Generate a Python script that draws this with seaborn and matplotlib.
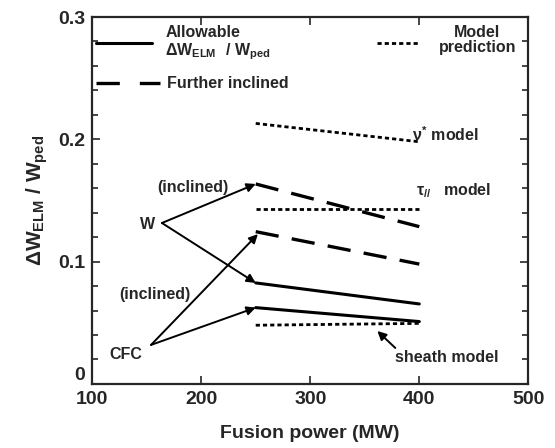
import numpy as np
import pandas as pd
import matplotlib
matplotlib.use("Agg")
import matplotlib.pyplot as plt
import seaborn as sns

# fusion power (MW) at the two ends of each line
power = [250, 400]

# model predictions (dotted)
nu_star_model = [0.213, 0.198]
tau_model = [0.143, 0.143]
sheath_model = [0.048, 0.0495]

# allowable dW_ELM / W_ped (solid)
w_allowable = [0.0826, 0.0654]
cfc_allowable = [0.0624, 0.051]

# further inclined (long dash)
w_inclined = [0.1635, 0.1286]
cfc_inclined = [0.1245, 0.098]

sns.set_style("ticks")
plt.rcParams['font.family'] = ['Liberation Sans', 'DejaVu Sans']
plt.rcParams['font.weight'] = 'bold'
plt.rcParams['mathtext.fontset'] = 'custom'
plt.rcParams['mathtext.rm'] = 'Liberation Sans:bold'
plt.rcParams['mathtext.it'] = 'Liberation Sans:bold'
plt.rcParams['mathtext.bf'] = 'Liberation Sans:bold'

fig = plt.figure(figsize=(5.55, 4.48), dpi=100)
ax = fig.add_axes([0.166, 0.143, 0.786, 0.819])

solid = dict(color='black', lw=2.2, linestyle='-')
dash = dict(color='black', lw=2.4, linestyle=(0, (7, 4)))
dot = dict(color='black', lw=2.0, linestyle=(0, (1.5, 1.1)))

sns.lineplot(x=power, y=nu_star_model, ax=ax, **dot)
sns.lineplot(x=power, y=tau_model, ax=ax, **dot)
sns.lineplot(x=power, y=sheath_model, ax=ax, **dot)
sns.lineplot(x=power, y=w_allowable, ax=ax, **solid)
sns.lineplot(x=power, y=cfc_allowable, ax=ax, **solid)
sns.lineplot(x=power, y=w_inclined, ax=ax, **dash)
sns.lineplot(x=power, y=cfc_inclined, ax=ax, **dash)

ax.set_xlim(100, 500)
ax.set_ylim(0, 0.3)
ax.set_xticks([100, 200, 300, 400, 500])
ax.set_yticks([0, 0.1, 0.2, 0.3])
ax.set_yticklabels(['0', '0.1', '0.2', '0.3'])
ax.set_yticks(np.arange(0, 0.3, 0.02), minor=True)
ax.tick_params(which='both', direction='in', top=True, right=True, width=1.2)
ax.tick_params(which='major', length=6, labelsize=14, pad=5)
ax.tick_params(which='minor', length=4)
for lab in ax.get_xticklabels() + ax.get_yticklabels():
    lab.set_fontweight('bold')
# the "0" sits just above the "100" like in the original
ax.get_yticklabels()[0].set_va('bottom')
for sp in ax.spines.values():
    sp.set_linewidth(1.6)

ax.set_xlabel('Fusion power (MW)', fontsize=14, fontweight='bold', labelpad=12)
ax.set_ylabel(r'$\Delta W_{ELM}\ /\ W_{ped}$', fontsize=15, labelpad=6)

# annotations with arrows
fs = 11.5
arrow = dict(arrowstyle='-|>', color='black', lw=1.4, mutation_scale=13, shrinkA=0, shrinkB=0)
ax.text(150.5, 0.130, 'W', ha='center', va='center', fontsize=fs, fontweight='bold')
ax.annotate('', xy=(power[0], w_inclined[0]), xytext=(164, 0.1316), arrowprops=arrow)
ax.annotate('', xy=(power[0], w_allowable[0]), xytext=(164, 0.1316), arrowprops=arrow)
ax.text(192.7, 0.161, '(inclined)', ha='center', va='center', fontsize=fs, fontweight='bold')
ax.text(131, 0.0237, 'CFC', ha='center', va='center', fontsize=fs, fontweight='bold')
ax.annotate('', xy=(power[0] + 2, cfc_inclined[0] - 0.002), xytext=(154, 0.0319), arrowprops=arrow)
ax.annotate('', xy=(power[0], cfc_allowable[0]), xytext=(154, 0.0319), arrowprops=arrow)
ax.text(157.8, 0.0728, '(inclined)', ha='center', va='center', fontsize=fs, fontweight='bold')

ax.text(393, 0.204, r'$\nu^{*}$ model', ha='left', va='center', fontsize=fs)
ax.text(397, 0.158, r'$\tau_{\it{//}}$   model', ha='left', va='center', fontsize=fs)
ax.text(425, 0.0213, 'sheath model', ha='center', va='center', fontsize=fs, fontweight='bold')
ax.annotate('', xy=(361.5, 0.0433), xytext=(378, 0.0294), arrowprops=arrow)

# hand-drawn legend
tr = ax.transAxes
ax.plot([0.009, 0.138], [0.929, 0.929], transform=tr, **solid)
ax.text(0.255, 0.958, 'Allowable', transform=tr, ha='center', va='center', fontsize=fs, fontweight='bold')
ax.text(0.167, 0.905, r'$\Delta W_{ELM}\ \ /\ W_{ped}$', transform=tr, ha='left', va='center', fontsize=fs)
ax.plot([0.009, 0.156], [0.820, 0.820], transform=tr, color='black', lw=2.4, linestyle=(0, (7, 6)))
ax.text(0.172, 0.820, 'Further inclined', transform=tr, ha='left', va='center', fontsize=fs, fontweight='bold')
ax.plot([0.654, 0.752], [0.929, 0.929], transform=tr, **dot)
ax.text(0.883, 0.937, 'Model\nprediction', transform=tr, ha='center', va='center', fontsize=fs,
        fontweight='bold', linespacing=0.95)

fig.savefig('out.png', dpi=100)
